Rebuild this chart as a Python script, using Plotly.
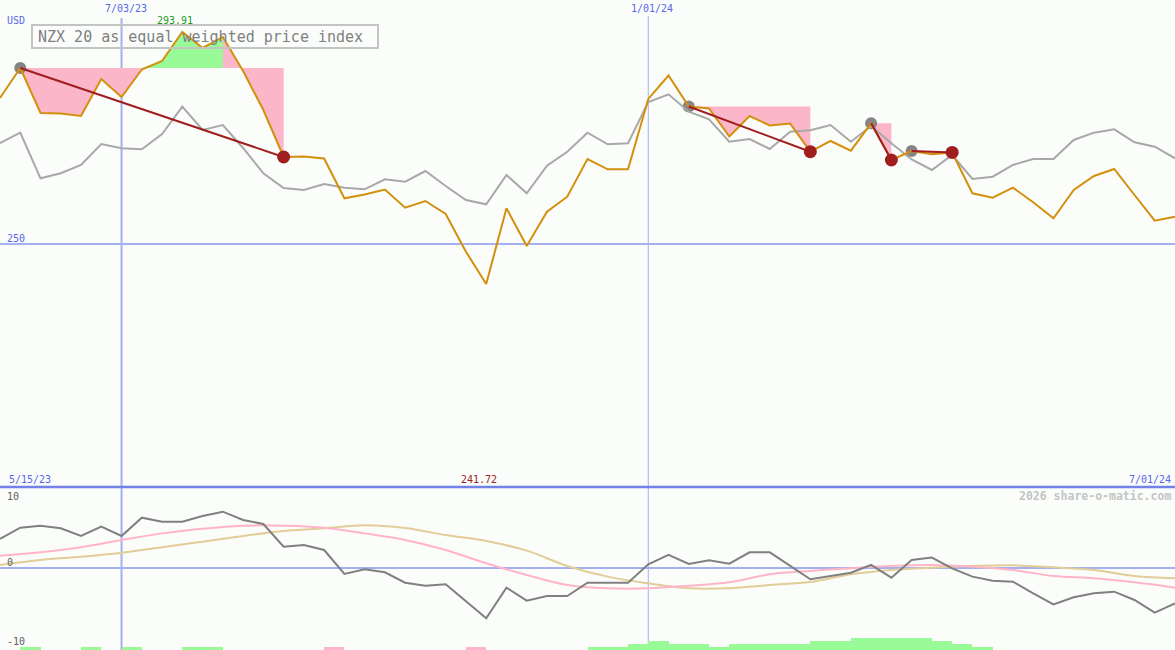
import plotly.graph_objects as go
import pandas as pd

W, H = 1175, 650

# ---------------- data (weekly) ----------------
START = "2023-05-22"
price = [280.24, 286.46, 277.14, 277.03, 276.52, 284.18, 280.45, 286.15, 287.91, 293.91,
         290.60, 292.88, 285.84, 277.76, 268.02, 268.13, 267.71, 259.47, 260.26, 261.29,
         257.52, 258.91, 256.22, 248.41, 241.72, 257.40, 249.59, 256.69, 259.80, 267.61,
         265.48, 265.48, 280.04, 284.90, 278.48, 278.07, 272.27, 276.52, 274.55, 274.96,
         269.12, 271.34, 269.33, 275.00, 267.40, 269.27, 268.58, 268.96, 260.51, 259.59,
         261.67, 258.64, 255.33, 261.19, 264.09, 265.54, 260.15, 254.83, 255.66]
index_line = [270.92, 273.06, 263.61, 264.65, 266.37, 270.72, 269.83, 269.62, 272.79, 278.44,
              273.62, 274.65, 269.89, 264.65, 261.60, 261.19, 262.43, 261.67, 261.33, 263.41,
              262.91, 265.12, 262.02, 259.12, 258.23, 264.30, 260.51, 266.22, 269.12, 273.06,
              270.66, 270.86, 279.42, 281.01, 277.41, 275.83, 271.19, 271.75, 269.68, 273.26,
              273.55, 274.65, 271.19, 274.44, 270.86, 267.51, 265.33, 268.44, 263.47, 263.94,
              266.37, 267.61, 267.61, 271.55, 273.06, 273.76, 271.07, 270.16, 267.76]
osc = [4.03, 5.60, 5.88, 5.51, 4.44, 5.74, 4.44, 6.99, 6.44, 6.44,
       7.22, 7.82, 6.67, 6.11, 2.96, 3.19, 2.50, -0.83, -0.19, -0.60,
       -2.04, -2.45, -2.27, -4.68, -6.99, -2.73, -4.54, -3.89, -3.89, -2.04,
       -2.04, -2.04, 0.51, 1.81, 0.56, 1.06, 0.60, 2.18, 2.18, 0.30,
       -1.57, -1.11, -0.65, 0.42, -1.34, 1.11, 1.44, -0.05, -1.20, -1.76,
       -1.90, -3.52, -5.05, -4.07, -3.52, -3.29, -4.44, -6.20, -4.91]
# fortnightly samples of the two smooth averages
pink_avg = [1.71, 2.18, 2.87, 3.89, 4.81, 5.46, 5.88, 5.88, 5.60, 4.81,
            3.90, 2.50, 0.65, -0.97, -2.36, -2.82, -2.82, -2.45, -1.99, -0.88,
            -0.40, -0.05, 0.28, 0.42, 0.19, -0.28, -1.11, -1.43, -1.99, -2.73]
tan_avg = [0.42, 1.11, 1.57, 2.13, 2.87, 3.66, 4.44, 5.14, 5.51, 5.93,
           5.55, 4.58, 3.75, 2.41, 0.28, -1.20, -2.13, -2.82, -2.82, -2.36,
           -1.95, -0.88, -0.28, 0.05, 0.28, 0.37, 0.09, -0.28, -1.11, -1.43]
# weekly signal bars (positive = green, negative = pink), one per week interval
signal = [0, 1, 0, 0, 1, 0, 1, 0, 0, 1,
          1, 0, 0, 0, 0, 0, -1, 0, 0, 0,
          0, 0, 0, -1, 0, 0, 0, 0, 0, 1,
          1, 2, 3, 2, 2, 1, 2, 2, 2, 2,
          3, 3, 4, 4, 4, 4, 3, 2, 1, 0,
          0, 0, 0, 0, 0, 0, 0, 0]
peaks = [1, 34, 43, 45]
troughs = [14, 40, 44, 47]
green_spans = [(7, 11)]

title_text = "NZX 20 as equal weighted price index"
currency = "USD"
grid_dates = ["2023-07-03", "2024-01-01"]
grid_labels = ["7/03/23", "1/01/24"]
range_start_label, range_end_label = "5/15/23", "7/01/24"
price_max_label, price_min_label = "293.91", "241.72"
level_label = 250
osc_labels = ["10", "0", "-10"]
credit = "2026 share-o-matic.com"

# ---------------- styling ----------------
BG = "#fbfdfb"
ORANGE = "#d4900c"
GREY = "#a8a8a8"
DARKRED = "#a01e1e"
PINK_FILL = "#fbb6c9"
GREEN_FILL = "#98fb98"
BLUE = "#a4b0f0"
BLUE_DARK = "#7282e8"
MONO = "DejaVu Sans Mono"

dates = pd.date_range(START, periods=len(price), freq="7D")
avg_dates = dates[::2]

SPLIT = 1 - 487 / H
fig = go.Figure()

# drawdown shading
for p, t in zip(peaks, troughs):
    lvl = price[p]
    xs = dates[p:t + 1]
    fig.add_trace(go.Scatter(x=xs, y=[lvl] * len(xs), mode="lines", line=dict(width=0),
                             showlegend=False, hoverinfo="skip"))
    fig.add_trace(go.Scatter(x=xs, y=price[p:t + 1], mode="lines", line=dict(width=0),
                             fill="tonexty", fillcolor=PINK_FILL, showlegend=False,
                             hoverinfo="skip"))
for a, b in green_spans:
    lvl = price[peaks[0]]
    xs = dates[a:b + 1]
    fig.add_trace(go.Scatter(x=xs, y=[lvl] * len(xs), mode="lines", line=dict(width=0),
                             showlegend=False, hoverinfo="skip"))
    fig.add_trace(go.Scatter(x=xs, y=[max(v, lvl) for v in price[a:b + 1]], mode="lines",
                             line=dict(width=0), fill="tonexty", fillcolor=GREEN_FILL,
                             showlegend=False, hoverinfo="skip"))

# peak markers (under the lines)
fig.add_trace(go.Scatter(x=[dates[p] for p in peaks], y=[price[p] for p in peaks],
                         mode="markers", marker=dict(size=12, color="#858585"),
                         showlegend=False, hoverinfo="skip"))

fig.add_trace(go.Scatter(x=dates, y=index_line, mode="lines",
                         line=dict(color=GREY, width=2), showlegend=False))
fig.add_trace(go.Scatter(x=dates, y=price, mode="lines",
                         line=dict(color=ORANGE, width=2), showlegend=False))

# drawdown lines and trough markers
for p, t in zip(peaks, troughs):
    fig.add_trace(go.Scatter(x=[dates[p], dates[t]], y=[price[p], price[t]], mode="lines",
                             line=dict(color=DARKRED, width=2), showlegend=False,
                             hoverinfo="skip"))
fig.add_trace(go.Scatter(x=[dates[t] for t in troughs], y=[price[t] for t in troughs],
                         mode="markers", marker=dict(size=13, color=DARKRED),
                         showlegend=False, hoverinfo="skip"))

# ---- lower panel ----
bar_x = [dates[k] for k in range(len(signal)) if signal[k] != 0]
bar_y = [abs(v) for v in signal if v != 0]
bar_c = [GREEN_FILL if v > 0 else PINK_FILL for v in signal if v != 0]
fig.add_trace(go.Bar(x=bar_x, y=bar_y, marker=dict(color=bar_c, line=dict(width=0)),
                     width=7 * 86400000, offset=0, xaxis="x2", yaxis="y3",
                     showlegend=False))
fig.add_trace(go.Scatter(x=avg_dates, y=tan_avg, mode="lines", line=dict(color="#e2cc98", width=2,
                         shape="spline"), xaxis="x2", yaxis="y2", showlegend=False))
fig.add_trace(go.Scatter(x=avg_dates, y=pink_avg, mode="lines", line=dict(color="#ffb4c8", width=2,
                         shape="spline"), xaxis="x2", yaxis="y2", showlegend=False))
fig.add_trace(go.Scatter(x=dates, y=osc, mode="lines", line=dict(color="#808080", width=2),
                         xaxis="x2", yaxis="y2", showlegend=False))

xr = ["2023-05-22", "2024-07-01"]
ax_common = dict(showgrid=False, zeroline=False, showticklabels=False, showline=False,
                 ticks="")
fig.update_layout(
    width=W, height=H, margin=dict(l=0, r=0, t=0, b=0),
    paper_bgcolor=BG, plot_bgcolor=BG, showlegend=False, bargap=0,
    xaxis=dict(range=xr, domain=[0, 1], anchor="y", **ax_common),
    yaxis=dict(range=[199.67, 300.54], domain=[SPLIT, 1], **ax_common),
    xaxis2=dict(range=xr, domain=[0, 1], anchor="y2", matches="x", **ax_common),
    yaxis2=dict(range=[-11.39, 11.25], domain=[0, SPLIT], **ax_common),
    yaxis3=dict(range=[0, 163 / 3], domain=[0, SPLIT], overlaying="y2", **ax_common),
)

shapes = []
# vertical date grid lines through both panels
shapes.append(dict(type="line", xref="x", yref="paper", x0=grid_dates[0], x1=grid_dates[0],
                   y0=0, y1=1 - 18 / H, line=dict(color=BLUE, width=2), layer="below"))
shapes.append(dict(type="line", xref="x", yref="paper", x0=grid_dates[1], x1=grid_dates[1],
                   y0=0, y1=1 - 16 / H, line=dict(color=BLUE, width=1), layer="below"))
# 250 level
shapes.append(dict(type="line", xref="paper", yref="y", x0=0, x1=1, y0=level_label,
                   y1=level_label, line=dict(color=BLUE, width=2), layer="below"))
# zero line of oscillator
shapes.append(dict(type="line", xref="paper", yref="y2", x0=0, x1=1, y0=0, y1=0,
                   line=dict(color=BLUE, width=2), layer="below"))
# panel separator
shapes.append(dict(type="line", xref="paper", yref="paper", x0=0, x1=1, y0=SPLIT, y1=SPLIT,
                   line=dict(color=BLUE_DARK, width=2.5)))
# title box
shapes.append(dict(type="rect", xref="paper", yref="paper", x0=32 / W, x1=378 / W,
                   y0=1 - 48 / H, y1=1 - 25 / H, line=dict(color="#c4c4c4", width=2),
                   fillcolor="rgba(0,0,0,0)"))
fig.update_layout(shapes=shapes)


def txt(s, x, y, color, size=10, xanchor="center", bold=False):
    fig.add_annotation(text=f"<b>{s}</b>" if bold else s, x=x / W, y=1 - y / H,
                       xref="paper", yref="paper", showarrow=False, xanchor=xanchor,
                       yanchor="middle", font=dict(family=MONO, size=size, color=color))


txt(title_text, 200, 37, "#808080", size=15)
txt(currency, 5, 20, "#5468e8", xanchor="left")
txt(grid_labels[0], 126, 8, "#5468e8")
txt(grid_labels[1], 652, 8, "#5468e8")
txt(price_max_label, 175, 20, "#1e9e1e")
txt(str(level_label), 5, 238, "#5468e8", xanchor="left")
txt(range_start_label, 7, 479, "#5468e8", xanchor="left")
txt(price_min_label, 479, 479, "#a01e1e")
txt(range_end_label, 1173, 479, "#5468e8", xanchor="right")
txt(osc_labels[0], 5, 496, "#606060", xanchor="left")
txt(osc_labels[1], 5, 562, "#606060", xanchor="left")
txt(osc_labels[2], 5, 641, "#606060", xanchor="left")
txt(credit, 1173, 496, "#c4c4c4", size=11.5, xanchor="right", bold=True)

fig.write_html("out.html", config={"displayModeBar": False},
               post_script="document.body.style.margin='0';document.body.style.padding='0';"
                           "document.body.style.overflow='hidden';")
